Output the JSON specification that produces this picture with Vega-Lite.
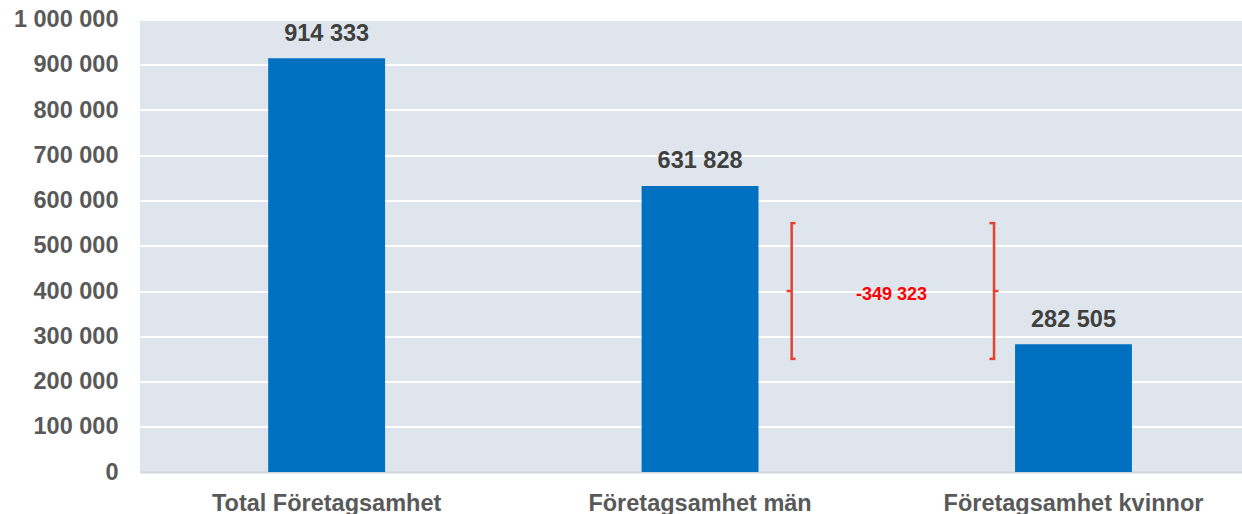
{
  "$schema": "https://vega.github.io/schema/vega-lite/v6.json",
  "width": 1102,
  "height": 452.5,
  "autosize": {"type": "none"},
  "padding": {"left": 140, "top": 19.5, "right": 0, "bottom": 42},
  "background": "white",
  "config": {
    "locale": {"number": {"decimal": ",", "thousands": " ", "grouping": [3], "currency": ["", " kr"], "minus": "-"}},
    "font": "Liberation Sans",
    "view": {"fill": "#dfe5ec", "stroke": null},
    "axisY": {"grid": true, "gridColor": "#ffffff", "gridWidth": 2, "domain": false, "ticks": false, "labelPadding": 22, "labelFontSize": 23.5, "labelFontWeight": "bold", "labelColor": "#595959", "labelFont": "Liberation Sans", "labelLimit": 0, "title": null},
    "axisX": {"grid": false, "domain": true, "domainColor": "#d0d5da", "domainWidth": 2, "ticks": false, "labelPadding": 38, "labelBaseline": "alphabetic", "labelAngle": 0, "labelFontSize": 23.5, "labelFontWeight": "bold", "labelColor": "#595959", "labelFont": "Liberation Sans", "labelLimit": 0, "title": null}
  },
  "layer": [
    {
      "data": {"values": [
        {"cat": "Total Företagsamhet", "value": 914333},
        {"cat": "Företagsamhet män", "value": 631828},
        {"cat": "Företagsamhet kvinnor", "value": 282505}
      ]},
      "mark": {"type": "bar", "color": "#0070c0"},
      "encoding": {
        "x": {"field": "cat", "type": "nominal", "title": null, "sort": null,
              "scale": {"domain": ["Total Företagsamhet", "Företagsamhet män", "Företagsamhet kvinnor"], "paddingInner": 0.687, "paddingOuter": 0.319, "align": 0.538}},
        "y": {"field": "value", "type": "quantitative", "title": null,
              "scale": {"domain": [0, 1000000], "nice": false, "zero": true},
              "axis": {"values": [0, 100000, 200000, 300000, 400000, 500000, 600000, 700000, 800000, 900000, 1000000], "format": ",d"}}
      }
    },
    {
      "data": {"values": [
        {"cat": "Total Företagsamhet", "value": 914333},
        {"cat": "Företagsamhet män", "value": 631828},
        {"cat": "Företagsamhet kvinnor", "value": 282505}
      ]},
      "mark": {"type": "text", "dy": -17.6, "baseline": "alphabetic", "fontSize": 23.5, "fontWeight": "bold", "color": "#404040", "font": "Liberation Sans"},
      "encoding": {
        "x": {"field": "cat", "type": "nominal", "title": null, "sort": null},
        "y": {"field": "value", "type": "quantitative", "title": null},
        "text": {"field": "value", "type": "quantitative", "format": ",d"}
      }
    },
    {
      "data": {"values": [{"cat": "Företagsamhet män", "lo": 250000, "hi": 550000}]},
      "mark": {"type": "rule", "color": "#e8402f", "strokeWidth": 2.5, "xOffset": 91.6},
      "encoding": {
        "x": {"field": "cat", "type": "nominal", "title": null, "sort": null},
        "y": {"field": "lo", "type": "quantitative", "title": null},
        "y2": {"field": "hi"}
      }
    },
    {
      "data": {"values": [{"cat": "Företagsamhet män", "at": 250000}, {"cat": "Företagsamhet män", "at": 550000}]},
      "mark": {"type": "rule", "color": "#e8402f", "strokeWidth": 2.5, "xOffset": 90.4, "x2Offset": 95.5},
      "encoding": {
        "x": {"field": "cat", "type": "nominal", "title": null, "sort": null},
        "x2": {"field": "cat"},
        "y": {"field": "at", "type": "quantitative", "title": null}
      }
    },
    {
      "data": {"values": [{"cat": "Företagsamhet män", "at": 400000}]},
      "mark": {"type": "rule", "color": "#e8402f", "strokeWidth": 2.5, "xOffset": 86.5, "x2Offset": 92},
      "encoding": {
        "x": {"field": "cat", "type": "nominal", "title": null, "sort": null},
        "x2": {"field": "cat"},
        "y": {"field": "at", "type": "quantitative", "title": null}
      }
    },
    {
      "data": {"values": [{"cat": "Företagsamhet kvinnor", "lo": 250000, "hi": 550000}]},
      "mark": {"type": "rule", "color": "#e8402f", "strokeWidth": 2.5, "xOffset": -79.45},
      "encoding": {
        "x": {"field": "cat", "type": "nominal", "title": null, "sort": null},
        "y": {"field": "lo", "type": "quantitative", "title": null},
        "y2": {"field": "hi"}
      }
    },
    {
      "data": {"values": [{"cat": "Företagsamhet kvinnor", "at": 250000}, {"cat": "Företagsamhet kvinnor", "at": 550000}]},
      "mark": {"type": "rule", "color": "#e8402f", "strokeWidth": 2.5, "xOffset": -84, "x2Offset": -78.2},
      "encoding": {
        "x": {"field": "cat", "type": "nominal", "title": null, "sort": null},
        "x2": {"field": "cat"},
        "y": {"field": "at", "type": "quantitative", "title": null}
      }
    },
    {
      "data": {"values": [{"cat": "Företagsamhet kvinnor", "at": 400000}]},
      "mark": {"type": "rule", "color": "#e8402f", "strokeWidth": 2.5, "xOffset": -80.6, "x2Offset": -75},
      "encoding": {
        "x": {"field": "cat", "type": "nominal", "title": null, "sort": null},
        "x2": {"field": "cat"},
        "y": {"field": "at", "type": "quantitative", "title": null}
      }
    },
    {
      "data": {"values": [{"cat": "Företagsamhet män", "at": 400000, "diff": -349323}]},
      "mark": {"type": "text", "color": "#ff0000", "fontSize": 18, "fontWeight": "bold", "font": "Liberation Sans", "baseline": "alphabetic", "align": "center", "xOffset": 191.5, "dy": 9},
      "encoding": {
        "x": {"field": "cat", "type": "nominal", "title": null, "sort": null},
        "y": {"field": "at", "type": "quantitative", "title": null},
        "text": {"field": "diff", "type": "quantitative", "format": ",d"}
      }
    }
  ]
}
